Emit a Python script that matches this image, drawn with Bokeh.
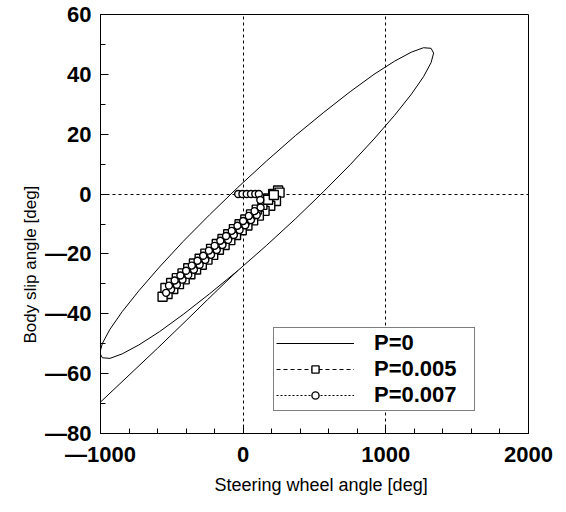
from bokeh.plotting import figure
from bokeh.models import FixedTicker, Legend, LegendItem, Range1d, SingleIntervalTicker, Title
from bokeh.embed import file_html
from bokeh.resources import INLINE

# ---- data ----
p0_x = [-1100, -1000, -800, -600, -400, -250, -120, -38, 165, 368, 565, 750, 917, 1061, 1178,
        1264, 1317, 1335, 1317, 1264, 1178, 1061, 917, 750, 565, 368, 165, -38, -235, -420,
        -587, -731, -848, -934, -987, -1005, -987, -934, -848, -731, -587, -420, -235, -38]
p0_y = [-74.0, -69.5, -60.5, -51.5, -42.3, -35.3, -29.3, -25.6, -17.1, -8.2, 0.9, 9.8, 18.4, 26.3, 33.3,
        39.2, 43.9, 47.1, 48.7, 48.9, 47.4, 44.4, 40.0, 34.2, 27.3, 19.6, 11.1, 2.2, -6.9, -15.8,
        -24.4, -32.3, -39.3, -45.2, -49.9, -53.1, -54.7, -54.9, -53.4, -50.4, -46.0, -40.2, -33.3, -25.6]

p5_x = [175, 210, 245, 255, 230, 190, 150, 110, 70, 30, -10, -50, -90, -130, -170, -210, -250,
        -290, -330, -370, -410, -450, -490, -530, -565, -545, -505, -465, -425, -385, -345, -305,
        -265, -225, -185, -145, -105, -65, -25, 15, 55, 95, 135, 175, 215]
p5_y = [-1.5, 0.0, 1.2, 0.5, -2.3, -3.9, -5.6, -7.2, -8.8, -10.5, -12.1, -13.7, -15.4, -17.0, -18.6,
        -20.3, -21.9, -23.6, -25.2, -26.8, -28.5, -30.1, -31.7, -33.4, -34.3, -31.4, -29.7, -28.1,
        -26.5, -24.8, -23.2, -21.6, -19.9, -18.3, -16.7, -15.0, -13.4, -11.7, -10.1, -8.5, -6.8,
        -5.2, -3.6, -1.9, -0.3]

p7_x = [-35, -5, 25, 55, 85, 110, 120, 122, 95, 55, 15, -25, -65, -105, -145, -185, -225, -265,
        -305, -345, -385, -425, -465, -505, -540, -520, -480, -440, -400, -360, -320, -280, -240,
        -200, -160, -120, -80, -40, 0, 40, 80]
p7_y = [0.0, 0.0, 0.0, 0.0, 0.0, 0.0, -2.0, -4.5, -7.0, -8.7, -10.4, -12.0, -13.7, -15.3, -17.0,
        -18.7, -20.3, -22.0, -23.6, -25.3, -27.0, -28.6, -30.3, -31.9, -33.0, -30.6, -28.9, -27.2,
        -25.6, -23.9, -22.3, -20.6, -18.9, -17.3, -15.6, -14.0, -12.3, -10.6, -9.0, -7.3, -5.7]

series_labels = ["P=0", "P=0.005", "P=0.007"]
x_label = "Steering wheel angle [deg]"
y_label = "Body slip angle [deg]"
x_tick_text = {-1000: "\u20141000"}
y_tick_text = {-20: "\u201420", -40: "\u201440", -60: "\u201460", -80: "\u201480"}

# ---- figure ----
p = figure(width=566, height=512, output_backend="svg", toolbar_location=None,
           x_range=Range1d(-1000, 2000), y_range=Range1d(-80, 60),
           min_border_left=100, min_border_right=38, min_border_top=14, min_border_bottom=79,
           background_fill_color="white", border_fill_color="white")

p.outline_line_color = "black"
p.outline_line_alpha = 1
p.outline_line_width = 1

p.xaxis.ticker = SingleIntervalTicker(interval=1000, num_minor_ticks=5)
p.yaxis.ticker = SingleIntervalTicker(interval=20, num_minor_ticks=2)

for ax in (p.xaxis, p.yaxis):
    ax.axis_line_color = "black"
    ax.major_tick_line_color = "black"
    ax.minor_tick_line_color = "black"
    ax.major_tick_in = 8
    ax.major_tick_out = 0
    ax.minor_tick_in = 5
    ax.minor_tick_out = 0
    ax.major_label_text_font = "Liberation Sans"
    ax.major_label_text_font_style = "bold"
    ax.major_label_text_font_size = "22px"
    ax.major_label_text_color = "black"

p.xaxis.major_label_standoff = 8
p.yaxis.major_label_standoff = 9
p.xaxis.major_label_overrides = x_tick_text
p.yaxis.major_label_overrides = y_tick_text

p.xgrid.ticker = FixedTicker(ticks=[0, 1000])
p.ygrid.ticker = FixedTicker(ticks=[0])
for g in (p.xgrid, p.ygrid):
    g.grid_line_color = "black"
    g.grid_line_dash = "3 3"
    g.grid_line_width = 1
    g.grid_line_alpha = 1

# axis titles
xt = Title(text=x_label, align="left", offset=114, standoff=6,
           text_font="Liberation Sans", text_font_size="18px", text_font_style="normal",
           text_color="black")
yt = Title(text=y_label, align="left", offset=90, standoff=6,
           text_font="Liberation Sans", text_font_size="17px", text_font_style="normal",
           text_color="black")
p.add_layout(xt, "below")
p.add_layout(yt, "left")

r0 = p.line(p0_x, p0_y, line_color="black", line_width=1)
r5l = p.line(p5_x, p5_y, line_color="black", line_width=1, line_dash="4 3")
r5m = p.scatter(p5_x, p5_y, marker="square", size=9, fill_color="white",
                line_color="black", line_width=1.4)
r7l = p.line(p7_x, p7_y, line_color="black", line_width=1, line_dash="2 2")
r7m = p.scatter(p7_x, p7_y, marker="circle", size=7, fill_color="white",
                line_color="black", line_width=1.4)

legend = Legend(items=[LegendItem(label=series_labels[0], renderers=[r0]),
                       LegendItem(label=series_labels[1], renderers=[r5l, r5m]),
                       LegendItem(label=series_labels[2], renderers=[r7l, r7m])],
                location=(173, 22))
legend.border_line_color = "black"
legend.border_line_width = 1
legend.background_fill_color = "white"
legend.background_fill_alpha = 1
legend.label_text_font = "Liberation Sans"
legend.label_text_font_style = "bold"
legend.label_text_font_size = "22px"
legend.label_text_color = "black"
legend.glyph_width = 78
legend.glyph_height = 18
legend.label_height = 18
legend.label_width = 98
legend.spacing = 0
legend.padding = 2
legend.margin = 0
legend.label_standoff = 20
p.add_layout(legend)

open("out.html", "w").write(file_html(p, INLINE))
